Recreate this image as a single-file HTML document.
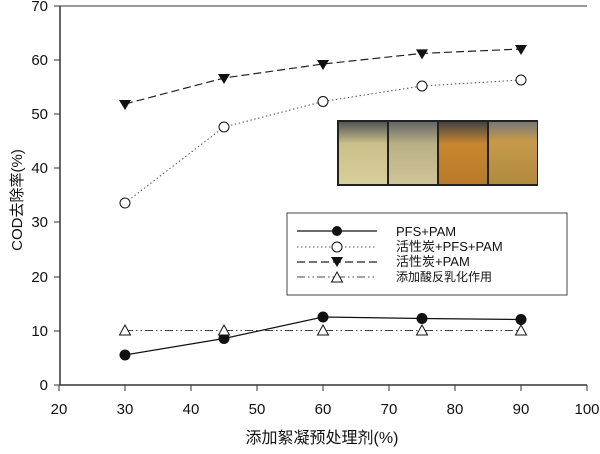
<!DOCTYPE html>
<html><head><meta charset="utf-8"><style>
body{margin:0;background:#fff}
svg text{font-family:"Liberation Sans","Noto Sans CJK SC",sans-serif}
</style></head><body>
<svg width="600" height="449" viewBox="0 0 600 449">
<defs>
<linearGradient id="g1" x1="0" y1="0" x2="0" y2="1"><stop offset="0" stop-color="#555"/><stop offset="0.35" stop-color="#c9c08a"/><stop offset="1" stop-color="#d8cf9a"/></linearGradient>
<linearGradient id="g2" x1="0" y1="0" x2="0" y2="1"><stop offset="0" stop-color="#666"/><stop offset="0.35" stop-color="#b9b085"/><stop offset="1" stop-color="#cfc497"/></linearGradient>
<linearGradient id="g3" x1="0" y1="0" x2="0" y2="1"><stop offset="0" stop-color="#444"/><stop offset="0.35" stop-color="#c8872e"/><stop offset="1" stop-color="#b87a2a"/></linearGradient>
<linearGradient id="g4" x1="0" y1="0" x2="0" y2="1"><stop offset="0" stop-color="#777"/><stop offset="0.3" stop-color="#c59a4a"/><stop offset="1" stop-color="#b28a3e"/></linearGradient>
</defs>
<g stroke="#333" stroke-width="1.5" fill="none">
<line x1="60" y1="6" x2="60" y2="385"/>
<line x1="60" y1="385" x2="587" y2="385"/>
<line x1="60" y1="6" x2="587" y2="6" stroke-width="1"/>
</g>
<g stroke="#333" stroke-width="1">
<line x1="54" y1="6" x2="60" y2="6"/><line x1="54" y1="60" x2="60" y2="60"/><line x1="54" y1="114" x2="60" y2="114"/><line x1="54" y1="168" x2="60" y2="168"/><line x1="54" y1="222" x2="60" y2="222"/><line x1="54" y1="277" x2="60" y2="277"/><line x1="54" y1="331" x2="60" y2="331"/><line x1="54" y1="385" x2="60" y2="385"/>
<line x1="59" y1="385" x2="59" y2="391"/><line x1="125" y1="385" x2="125" y2="391"/><line x1="191" y1="385" x2="191" y2="391"/><line x1="257" y1="385" x2="257" y2="391"/><line x1="323" y1="385" x2="323" y2="391"/><line x1="389" y1="385" x2="389" y2="391"/><line x1="455" y1="385" x2="455" y2="391"/><line x1="521" y1="385" x2="521" y2="391"/><line x1="587" y1="385" x2="587" y2="391"/>
</g>
<g font-size="15" fill="#111" text-anchor="end">
<text x="48" y="11">70</text><text x="48" y="65">60</text><text x="48" y="119">50</text><text x="48" y="173">40</text><text x="48" y="227">30</text><text x="48" y="282">20</text><text x="48" y="336">10</text><text x="48" y="390">0</text>
</g>
<g font-size="15" fill="#111" text-anchor="middle">
<text x="59" y="414">20</text><text x="125" y="414">30</text><text x="191" y="414">40</text><text x="257" y="414">50</text><text x="323" y="414">60</text><text x="389" y="414">70</text><text x="455" y="414">80</text><text x="521" y="414">90</text><text x="587" y="414">100</text>
</g>
<text x="322" y="443" font-size="16" text-anchor="middle" fill="#111">添加絮凝预处理剂(%)</text>
<text transform="translate(22,200) rotate(-90)" font-size="15" text-anchor="middle" fill="#111">COD去除率(%)</text>
<rect x="337" y="120" width="201" height="66" fill="#222"/>
<rect x="339" y="122" width="48" height="62" fill="url(#g1)"/>
<rect x="389" y="122" width="48" height="62" fill="url(#g2)"/>
<rect x="439" y="122" width="48" height="62" fill="url(#g3)"/>
<rect x="489" y="122" width="48" height="62" fill="url(#g4)"/>
<polyline points="125,203 224,127 323,101.5 422,86 521,80" fill="none" stroke="#555" stroke-width="1" stroke-dasharray="1.5,2.5"/>
<polyline points="125,104 224,78 323,64 422,53.4 521,49" fill="none" stroke="#222" stroke-width="1.2" stroke-dasharray="8,4"/>
<polyline points="125,330.5 521,330.5" fill="none" stroke="#444" stroke-width="1" stroke-dasharray="8,3,1.5,3,1.5,3"/>
<polyline points="125,355 224,338.5 323,317 422,318.5 521,319.5" fill="none" stroke="#111" stroke-width="1.2"/>
<g fill="#fff" stroke="#111" stroke-width="1">
<circle cx="125" cy="203" r="5"/><circle cx="224" cy="127" r="5"/><circle cx="323" cy="101.5" r="5"/><circle cx="422" cy="86" r="5"/><circle cx="521" cy="80" r="5"/>
</g>
<g fill="#111">
<path d="M119,100 h12 l-6,10z"/><path d="M218,74 h12 l-6,10z"/><path d="M317,60 h12 l-6,10z"/><path d="M416,49.4 h12 l-6,10z"/><path d="M515,45 h12 l-6,10z"/>
<circle cx="125" cy="355" r="5.5"/><circle cx="224" cy="338.5" r="5.5"/><circle cx="323" cy="317" r="5.5"/><circle cx="422" cy="318.5" r="5.5"/><circle cx="521" cy="319.5" r="5.5"/>
</g>
<g fill="#fff" stroke="#111" stroke-width="1">
<path d="M125,325 l5.5,10 h-11z"/><path d="M224,325 l5.5,10 h-11z"/><path d="M323,325 l5.5,10 h-11z"/><path d="M422,325 l5.5,10 h-11z"/><path d="M521,325 l5.5,10 h-11z"/>
</g>
<rect x="287" y="213" width="280" height="82" fill="#fff" stroke="#444" stroke-width="1"/>
<line x1="297" y1="231" x2="377" y2="231" stroke="#111" stroke-width="1.2"/>
<circle cx="337" cy="231" r="5" fill="#111"/>
<line x1="297" y1="247" x2="377" y2="247" stroke="#555" stroke-dasharray="1.5,2.5"/>
<circle cx="337" cy="247" r="5" fill="#fff" stroke="#111"/>
<line x1="297" y1="262" x2="377" y2="262" stroke="#222" stroke-width="1.2" stroke-dasharray="8,4"/>
<path d="M331,257 h12 l-6,10z" fill="#111"/>
<line x1="297" y1="277" x2="377" y2="277" stroke="#444" stroke-dasharray="8,3,1.5,3,1.5,3"/>
<path d="M337,272 l5.5,10 h-11z" fill="#fff" stroke="#111"/>
<g font-size="13" fill="#111">
<text x="396" y="236">PFS+PAM</text>
<text x="396" y="251">活性炭+PFS+PAM</text>
<text x="396" y="266">活性炭+PAM</text>
<text x="396" y="281" font-size="12">添加酸反乳化作用</text>
</g>
</svg>
</body></html>
